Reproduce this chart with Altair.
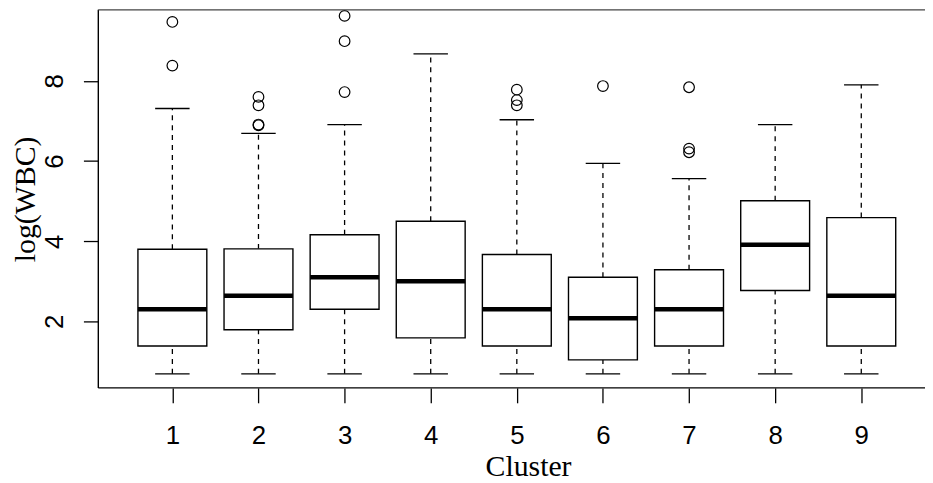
import altair as alt
import pandas as pd

# ---- data ----
clusters = [1, 2, 3, 4, 5, 6, 7, 8, 9]
whisk_lo = [0.693, 0.693, 0.693, 0.693, 0.693, 0.693, 0.693, 0.693, 0.693]
q1 = [1.386, 1.792, 2.303, 1.59, 1.386, 1.04, 1.386, 2.77, 1.386]
median = [2.303, 2.639, 3.10, 3.00, 2.303, 2.08, 2.303, 3.91, 2.639]
q3 = [3.80, 3.81, 4.16, 4.50, 3.67, 3.10, 3.29, 5.01, 4.59]
whisk_hi = [7.31, 6.69, 6.91, 8.67, 7.03, 5.94, 5.56, 6.91, 7.90]

out_cluster = [1, 1, 2, 2, 2, 2, 3, 3, 3, 5, 5, 5, 6, 7, 7, 7]
out_value = [8.38, 9.47, 6.89, 6.91, 7.39, 7.60, 7.72, 8.99, 9.62,
             7.39, 7.52, 7.78, 7.87, 6.22, 6.31, 7.84]

x_ticks = [1, 2, 3, 4, 5, 6, 7, 8, 9]
y_ticks = [2, 4, 6, 8]

stats = pd.DataFrame({
    "cluster": clusters, "lo": whisk_lo, "q1": q1,
    "med": median, "q3": q3, "hi": whisk_hi,
})
outs = pd.DataFrame({"cluster": out_cluster, "value": out_value})
frame_df = pd.DataFrame({"k": [0]})

W, H = 833, 381
xscale = alt.Scale(domain=[0.14, 9.74], nice=False, zero=False)
yscale = alt.Scale(domain=[0.342, 9.772], nice=False, zero=False)

xaxis = alt.Axis(values=x_ticks, format="d", title="Cluster", grid=False,
                 domain=False, tickSize=15, tickWidth=1.3, tickColor="black",
                 labelFont="Liberation Sans", labelFontSize=26, labelColor="black",
                 labelBaseline="alphabetic", labelPadding=41,
                 titleFont="Liberation Serif", titleFontSize=30,
                 titleFontWeight="normal", titleColor="black",
                 titleBaseline="alphabetic", titleX=433, titleY=88,
                 titleAlign="center")
yaxis = alt.Axis(values=y_ticks, format="d", title="log(WBC)", grid=False,
                 domain=False, tickSize=15, tickWidth=1.3, tickColor="black",
                 labelFont="Liberation Sans", labelFontSize=26, labelColor="black",
                 labelAngle=270, labelAlign="center", labelBaseline="alphabetic",
                 labelPadding=21,
                 titleFont="Liberation Serif", titleFontSize=30,
                 titleFontWeight="normal", titleColor="black",
                 titleAngle=270, titleBaseline="alphabetic", titleX=-64,
                 titleAlign="center")

base = alt.Chart(stats).transform_calculate(
    bx0="datum.cluster - 0.4", bx1="datum.cluster + 0.4",
    cx0="datum.cluster - 0.2", cx1="datum.cluster + 0.2",
)

whisk_up = base.mark_rule(color="black", strokeWidth=1.3, strokeDash=[5, 5]).encode(
    x=alt.X("cluster:Q", scale=xscale, axis=xaxis),
    y=alt.Y("q3:Q", scale=yscale, axis=yaxis),
    y2="hi:Q",
)
whisk_dn = base.mark_rule(color="black", strokeWidth=1.3, strokeDash=[5, 5]).encode(
    x=alt.X("cluster:Q", scale=xscale),
    y=alt.Y("lo:Q", scale=yscale),
    y2="q1:Q",
)
boxes = base.mark_rect(fill="white", stroke="black", strokeWidth=1.4).encode(
    x=alt.X("bx0:Q", scale=xscale), x2="bx1:Q",
    y=alt.Y("q1:Q", scale=yscale), y2="q3:Q",
)
medians = base.mark_rule(color="black", strokeWidth=4.5, strokeCap="butt").encode(
    x=alt.X("bx0:Q", scale=xscale), x2="bx1:Q",
    y=alt.Y("med:Q", scale=yscale),
)
cap_hi = base.mark_rule(color="black", strokeWidth=1.3).encode(
    x=alt.X("cx0:Q", scale=xscale), x2="cx1:Q",
    y=alt.Y("hi:Q", scale=yscale),
)
cap_lo = base.mark_rule(color="black", strokeWidth=1.3).encode(
    x=alt.X("cx0:Q", scale=xscale), x2="cx1:Q",
    y=alt.Y("lo:Q", scale=yscale),
)
points = alt.Chart(outs).mark_point(shape="circle", filled=False, color="black",
                                    size=115, strokeWidth=1.2, opacity=1).encode(
    x=alt.X("cluster:Q", scale=xscale),
    y=alt.Y("value:Q", scale=yscale),
)

# plot frame (left, bottom, top; the right side lies beyond the picture)
frame_left = alt.Chart(frame_df).mark_rule(color="black", strokeWidth=1.4).encode(
    x=alt.value(0), y=alt.value(0), y2=alt.value(H))
frame_bottom = alt.Chart(frame_df).mark_rule(color="black", strokeWidth=1.4).encode(
    x=alt.value(0), x2=alt.value(W), y=alt.value(H))
frame_top = alt.Chart(frame_df).mark_rule(color="#444444", strokeWidth=1.2).encode(
    x=alt.value(0), x2=alt.value(W), y=alt.value(0))

chart = alt.layer(whisk_up, whisk_dn, boxes, medians, cap_hi, cap_lo, points,
                  frame_left, frame_bottom, frame_top).properties(
    width=W, height=H,
    autosize=alt.AutoSizeParams(type="none"),
    padding={"left": 91, "top": 0, "right": 0, "bottom": 92},
    background="white",
).configure_view(stroke=None)

chart.save("out.html", embed_options={"renderer": "svg", "actions": False})
